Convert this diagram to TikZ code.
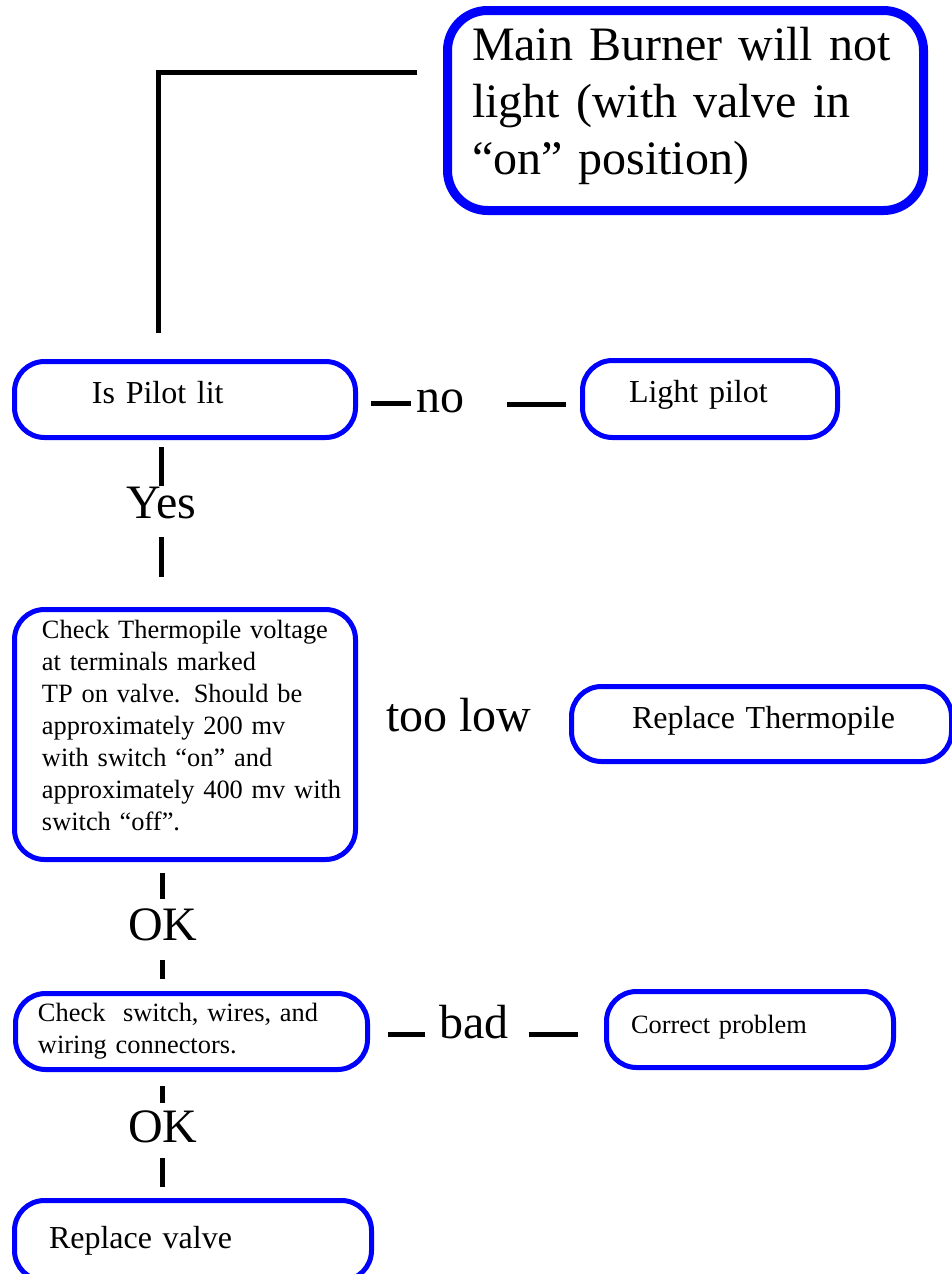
\documentclass[tikz,border=0pt]{standalone}
\usepackage{fontspec}
\setmainfont{Liberation Serif}
\usepackage{tikz}
\usetikzlibrary{positioning}
\definecolor{fcblue}{RGB}{0,0,255}

\begin{document}
\begin{tikzpicture}[x=1pt,y=-1pt,
  chk/.style={draw=fcblue,line width=5pt,rounded corners=30pt,outer sep=0pt,
    anchor=north west,align=left,inner ysep=0pt},
  pad/.style={inner xsep=4pt,execute at begin node={\leftskip=#1}},
  big/.style={font=\fontsize{32}{38}\selectfont},
  small/.style={font=\fontsize{26.4}{32}\selectfont},
  lbl/.style={font=\fontsize{48}{57}\selectfont,inner sep=0pt,
    text height=32pt,text depth=0pt,anchor=base west},
  lnk/.style={line width=5pt}]
  \useasboundingbox (0,0) rectangle (951,1274);
  % Problem
  \node[chk,line width=9pt,rounded corners=40pt,font=\fontsize{48}{57}\selectfont,
    minimum width=476,minimum height=200,pad=20.5pt,text width=468,text depth=134pt]
    (top) at (447.5,10.5) {Main Burner will not\\light (with valve in\\“on” position)};
  \coordinate (topend) at (158,333);
  \draw[lnk] ([shift={(-30.5,61.5)}]top.north west) -| (topend);
  % Pilot
  \node[chk,big,minimum width=341,minimum height=76,pad=73.5pt,text width=333,text depth=15pt]
    (pilot) at (14.5,361.5) {Is Pilot lit};
  \node[chk,big,minimum width=255,minimum height=77,pad=42.5pt,text width=247,text depth=16pt]
    (light) at (582.5,360.5) {Light pilot};
  \node[lbl] (lno) at (416,412) {no};
  \draw[lnk,shorten <=15.5pt,shorten >=5pt] ([yshift=-4pt]pilot.east) -- ([yshift=-4pt]pilot.east -| lno.west);
  \draw[lnk,shorten <=43pt,shorten >=16.5pt] ([yshift=-5pt]light.west -| lno.east) -- ([yshift=-5pt]light.west);
  \node[lbl] (lyes) at (126,518) {Yes};
  \draw[lnk,shorten <=9.5pt] (pilot.south -| lyes.north) -- (lyes.north);
  % Thermopile
  \node[chk,small,minimum width=341,minimum height=250,pad=23.5pt,text width=333,text depth=211pt]
    (tp) at (14.5,609.5) {Check Thermopile voltage\\at terminals marked\\TP on valve. Should be\\approximately 200 mv\\with switch “on” and\\approximately 400 mv with\\switch “off”.};
  \draw[lnk,shorten <=19pt,shorten >=32.5pt] (lyes.south) -- (lyes.south |- tp.north);
  \node[chk,big,minimum width=380,minimum height=75,pad=56.5pt,text width=372,text depth=14pt]
    (rt) at (571.5,686.5) {Replace Thermopile};
  \node[lbl] (llow) at (386,731) {too low};
  \node[lbl] (lok1) at (128,940) {OK};
  \draw[lnk,shorten <=13.5pt,shorten >=9pt] (tp.south -| lok1.north) -- (lok1.north);
  % Wiring
  \node[chk,small,minimum width=352,minimum height=76,pad=18.5pt,text width=344]
    (sw) at (15.5,993.5) {Check\ \ switch, wires, and\\wiring connectors.};
  \draw[lnk,shorten <=20pt,shorten >=14.5pt] (lok1.south) -- (lok1.south |- sw.north);
  \node[chk,small,minimum width=287,minimum height=76,pad=20.5pt,text width=279,text depth=11pt]
    (cp) at (606.5,991.5) {Correct problem};
  \node[lbl] (lbad) at (439,1038) {bad};
  \draw[lnk,shorten <=20.5pt,shorten >=14pt] ([yshift=-2.5pt]sw.east) -- ([yshift=-2.5pt]sw.east -| lbad.west);
  \draw[lnk,shorten <=20pt,shorten >=28.5pt] ([yshift=-4.5pt]cp.west -| lbad.east) -- ([yshift=-4.5pt]cp.west);
  \node[lbl] (lok2) at (128,1142) {OK};
  \draw[lnk,shorten <=16.5pt,shorten >=7pt] (sw.south -| lok2.north) -- (lok2.north);
  % Valve
  \node[chk,big,minimum width=357,minimum height=80,pad=30.5pt,text width=349]
    (valve) at (14.5,1200.5) {Replace valve};
  \draw[lnk,shorten <=16pt,shorten >=13.5pt] (lok2.south) -- (lok2.south |- valve.north);
\end{tikzpicture}
\end{document}
